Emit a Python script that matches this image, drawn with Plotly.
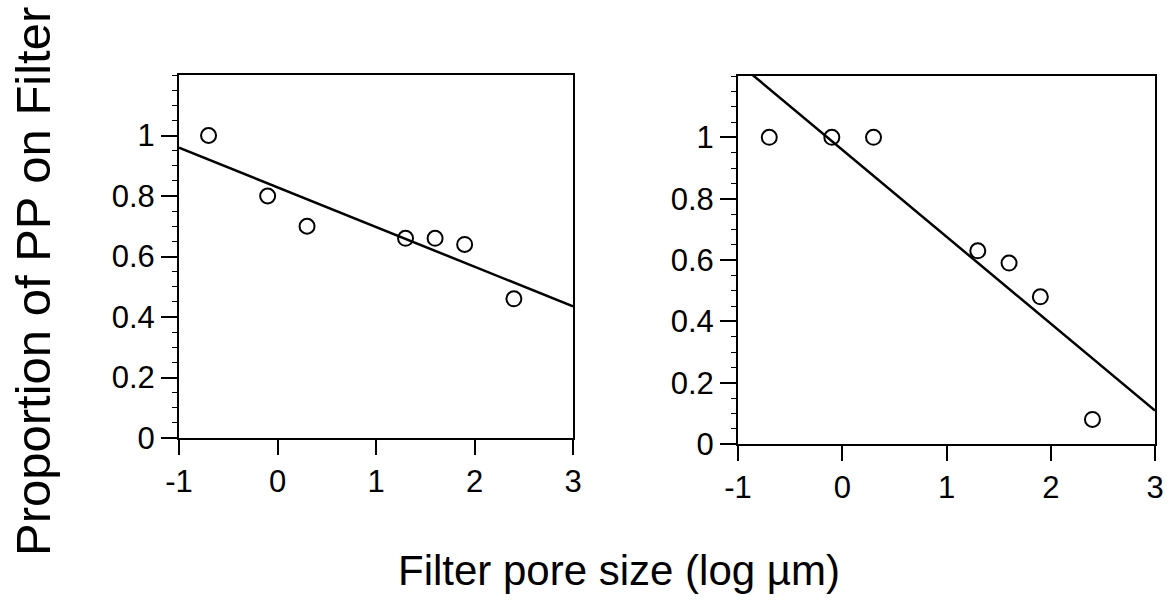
import plotly.graph_objects as go
from plotly.subplots import make_subplots

# Data (log10 pore size, proportion of PP on filter)
pore_log = [-0.7, -0.1, 0.3, 1.3, 1.6, 1.9, 2.4]
left_prop = [1.0, 0.80, 0.70, 0.66, 0.66, 0.64, 0.46]
right_prop = [1.0, 1.0, 1.0, 0.63, 0.59, 0.48, 0.08]

# Regression lines (endpoints)
fit_x = [-1, 3]
left_fit = [0.96, 0.435]
right_fit = [1.243, 0.109]

y_tickvals = [0, 0.2, 0.4, 0.6, 0.8, 1.0]
y_ticktext = ["0", "0.2", "0.4", "0.6", "0.8", "1"]
x_tickvals = [-1, 0, 1, 2, 3]
x_ticktext = ["-1", "0", "1", "2", "3"]

FONT = "Arial, Liberation Sans, Helvetica, sans-serif"
W, H = 1169, 602

fig = make_subplots(rows=1, cols=2)

for col, prop, fit in [(1, left_prop, left_fit), (2, right_prop, right_fit)]:
    fig.add_trace(go.Scatter(x=fit_x, y=fit, mode="lines",
                             line=dict(color="black", width=2.5),
                             showlegend=False, hoverinfo="skip"), row=1, col=col)
    fig.add_trace(go.Scatter(x=pore_log, y=prop, mode="markers",
                             marker=dict(symbol="circle-open", size=15, color="black",
                                         line=dict(color="black", width=2)),
                             showlegend=False), row=1, col=col)

axis_common = dict(showline=True, linecolor="black", linewidth=2, mirror=True,
                   showgrid=False, zeroline=False, ticks="outside", tickcolor="black",
                   tickwidth=1.5, automargin=False,
                   tickfont=dict(family=FONT, size=31, color="black"))

# Domains in pixels
left_px = (179, 573, 75, 438)
right_px = (738, 1155, 76, 444)

def dom(px):
    x0, x1, top, bottom = px
    return [x0 / W, x1 / W], [1 - bottom / H, 1 - top / H]

lx, ly = dom(left_px)
rx, ry = dom(right_px)

minor_y = dict(ticks="outside", ticklen=5, dtick=0.05, tickcolor="black",
               tickwidth=1, showgrid=False)

fig.update_layout(
    xaxis=dict(domain=lx, range=[-1, 3], tickvals=x_tickvals, ticktext=x_ticktext,
               ticklen=15, **axis_common),
    yaxis=dict(domain=ly, range=[0, 1.2], tickvals=y_tickvals, ticktext=y_ticktext,
               ticklen=16, minor=minor_y, **axis_common),
    xaxis2=dict(domain=rx, range=[-1, 3], tickvals=x_tickvals, ticktext=x_ticktext,
                ticklen=15, **axis_common),
    yaxis2=dict(domain=ry, range=[0, 1.2], tickvals=y_tickvals, ticktext=y_ticktext,
                ticklen=16, minor=minor_y, **axis_common),
    width=W, height=H,
    margin=dict(l=0, r=0, t=0, b=0),
    paper_bgcolor="white", plot_bgcolor="white",
    annotations=[
        dict(text="Proportion of PP on Filter", x=33 / W, y=1 - 282 / H,
             xref="paper", yref="paper", showarrow=False, textangle=-90,
             xanchor="center", yanchor="middle",
             font=dict(family=FONT, size=49, color="black")),
        dict(text="Filter pore size (log µm)", x=619 / W, y=1 - 570 / H,
             xref="paper", yref="paper", showarrow=False,
             xanchor="center", yanchor="middle",
             font=dict(family=FONT, size=42, color="black")),
    ],
)

fig.write_html("out.html")
